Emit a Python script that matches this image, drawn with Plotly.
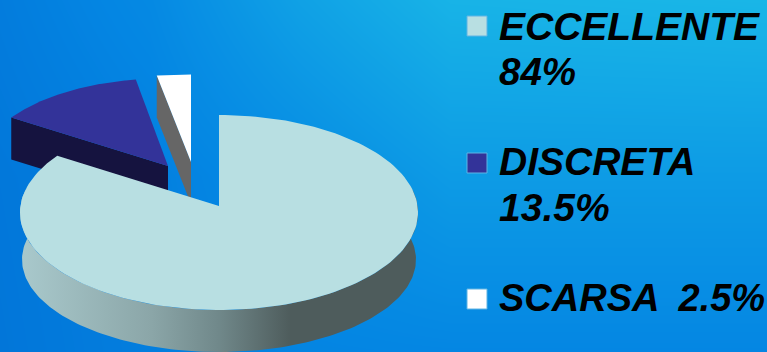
import numpy as np
import plotly.graph_objects as go

# Survey result shares
categories = ["ECCELLENTE", "DISCRETA", "SCARSA"]
shares = [84, 13.5, 2.5]
top_colors = ["#b8dfe2", "#333399", "#ffffff"]
label_lines = [["ECCELLENTE", "84%"], ["DISCRETA", "13.5%"], ["SCARSA\u20022.5%"]]

W, H = 767, 352
DEPTH = 42
SIDE_DEPTH = 47     # the wall reads a little deeper at the disc's left and right
APEX = {"ECCELLENTE": (219, 206), "DISCRETA": (168, 166), "SCARSA": (191, 162)}
RX = {"ECCELLENTE": 199, "DISCRETA": 190, "SCARSA": 235}
RY = {"ECCELLENTE": 97.5, "DISCRETA": 94, "SCARSA": 94}
SHEAR = {"ECCELLENTE": 0.0, "DISCRETA": 0.052, "SCARSA": 0.0}
APEX_LIFT = 6.5  # the tilted disc's centre sits this far below the point of the wedge

# Slice angles, clockwise from twelve o'clock
ends = np.cumsum(shares) * 3.6
starts = ends - np.array(shares) * 3.6
ANGLES = {c: (s, e) for c, s, e in zip(categories, starts, ends)}


def rim(cat, a0, a1, n=160, shrink=0.0):
    """Where rays from the wedge point meet the slice's tilted outer ellipse."""
    cx, cy = APEX[cat]
    a, b = RX[cat] - shrink, RY[cat]
    t = np.radians(np.linspace(a0, a1, n))
    dx, dy = a * np.sin(t), -b * np.cos(t)
    # Solve |apex + r*d - centre| = 1 in ellipse units
    qa = (dx / a) ** 2 + (dy / b) ** 2
    qb = 2 * (dy / b) * (-APEX_LIFT / b)
    qc = (APEX_LIFT / b) ** 2 - 1
    r = (-qb + np.sqrt(qb * qb - 4 * qa * qc)) / (2 * qa)
    return cx + r * dx + SHEAR[cat] * r * dy, cy + r * dy


def wedge(cat):
    a0, a1 = ANGLES[cat]
    x, y = rim(cat, a0, a1)
    cx, cy = APEX[cat]
    return np.r_[cx, x, cx], np.r_[cy, y, cy]


def poly(x, y, color=None, gradient=None):
    kw = dict(x=x, y=y, mode="lines", fill="toself", line=dict(width=0),
              hoverinfo="skip", showlegend=False)
    if gradient:
        kw["fillgradient"] = gradient
    else:
        kw["fillcolor"] = color
    return go.Scatter(**kw)


fig = go.Figure()

# Backdrop: blue wash, brightest along the upper right
fig.add_trace(go.Heatmap(
    x=[0, 150, 300, 450, W], y=[0, H / 2, H],
    z=[[0.08, 0.25, 0.65, 0.95, 1.0],
       [0.02, 0.12, 0.3, 0.55, 0.55],
       [0.0, 0.1, 0.18, 0.2, 0.2]],
    zmin=0, zmax=1, zsmooth="best", showscale=False, hoverinfo="skip",
    colorscale=[[0, "#0276d9"], [0.2, "#0486e3"], [1, "#19b6e7"]],
))

# SCARSA: cut face, then top
sx0, sy0 = rim("SCARSA", ANGLES["SCARSA"][0], ANGLES["SCARSA"][0], n=1)
cx, cy = APEX["SCARSA"]
fig.add_trace(poly([sx0[0], cx, cx, sx0[0], sx0[0]],
                   [sy0[0], cy, cy + DEPTH, sy0[0] + DEPTH, sy0[0]], "#666666"))
fig.add_trace(poly(*wedge("SCARSA"), top_colors[2]))

# DISCRETA: cut face, then top
dx0, dy0 = rim("DISCRETA", ANGLES["DISCRETA"][0], ANGLES["DISCRETA"][0], n=1)
cx, cy = APEX["DISCRETA"]
fig.add_trace(poly([dx0[0], cx, cx, dx0[0], dx0[0]],
                   [dy0[0], cy, cy + DEPTH, dy0[0] + DEPTH, dy0[0]], "#15133f"))
fig.add_trace(poly(*wedge("DISCRETA"), top_colors[1]))

# ECCELLENTE: shaded outer wall, then top. The wall's lower edge is a flatter
# ellipse, still meeting the same lowest point at the front.
ux, uy = rim("ECCELLENTE", 80, 280)
lx, ly = rim("ECCELLENTE", 80, 280, shrink=2)
disc_mid = APEX["ECCELLENTE"][1] + APEX_LIFT
flatten = (RY["ECCELLENTE"] + DEPTH - SIDE_DEPTH) / RY["ECCELLENTE"]
ly = disc_mid + SIDE_DEPTH + (ly - disc_mid) * flatten
fig.add_trace(poly(
    np.r_[ux, lx[::-1], ux[0]], np.r_[uy, ly[::-1], uy[0]],
    gradient=dict(type="horizontal", colorscale=[
        [0, "#a9c9cc"], [0.33, "#8ba6a8"], [0.5, "#70888a"],
        [0.68, "#4e5c5c"], [1, "#4e5c5c"]]),
))
fig.add_trace(poly(*wedge("ECCELLENTE"), top_colors[0]))

# Key: swatches and labels
SWATCH_X = 477
SWATCH_Y = [26, 163, 299]
TEXT_X = 497
LINE_Y = [[26, 71], [161, 207], [298]]
LINE_SIZE = [[39, 38.5], [39, 39], [38]]

fig.add_trace(go.Scatter(
    x=[SWATCH_X] * 3, y=SWATCH_Y, mode="markers", hoverinfo="skip", showlegend=False,
    marker=dict(symbol="square", size=20, color=top_colors,
                line=dict(width=1, color="#5fb4e4")),
))
for lines, ys, sizes in zip(label_lines, LINE_Y, LINE_SIZE):
    for text, y, size in zip(lines, ys, sizes):
        fig.add_annotation(
            x=TEXT_X, y=y, text=f"<b><i>{text}</i></b>", showarrow=False,
            xanchor="left", yanchor="middle", xref="x", yref="y",
            font=dict(family="Liberation Sans", size=size, color="#000000"),
        )

fig.update_xaxes(range=[0, W], visible=False, fixedrange=True)
fig.update_yaxes(range=[H, 0], visible=False, fixedrange=True)
fig.update_layout(width=W, height=H, margin=dict(l=0, r=0, t=0, b=0),
                  paper_bgcolor="#0486e3", plot_bgcolor="rgba(0,0,0,0)")

fig.write_html("out.html", config=dict(displayModeBar=False))
